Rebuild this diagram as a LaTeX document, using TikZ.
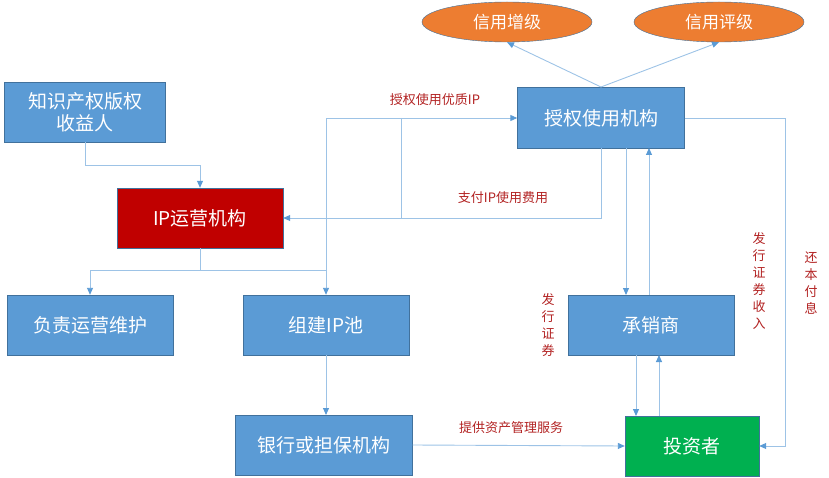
\documentclass[tikz,border=0pt]{standalone}
\usepackage{fontspec}
\setmainfont{Noto Sans CJK SC}
\usetikzlibrary{arrows.meta,shapes.geometric}
\definecolor{bx}{HTML}{5B9BD5}
\definecolor{bd}{HTML}{41719C}
\definecolor{ln}{HTML}{9DC3E6}
\definecolor{lb}{HTML}{B22222}
\definecolor{og}{HTML}{ED7D31}
\definecolor{rd}{HTML}{C00000}
\definecolor{gn}{HTML}{00B050}
\begin{document}
\begin{tikzpicture}[x=1pt,y=-1pt,
 box/.style={draw=bd,fill=bx,text=white,minimum width=166pt,minimum height=60pt,font=\fontsize{19}{22}\selectfont,inner sep=0pt,align=center},
 ell/.style={ellipse,draw=bd,fill=og,minimum width=170pt,minimum height=40pt,text=white,font=\fontsize{17}{20}\selectfont},
 con/.style={draw=ln,line width=0.9pt},
 arr/.style={con,-{Triangle[length=7pt,width=6pt,fill=bx,color=bx]}},
 lab/.style={text=lb,font=\fontsize{13}{15}\selectfont,inner sep=1pt},
 vlab/.style={lab,align=center,font=\fontsize{13}{17}\selectfont}]
\useasboundingbox (0,0) rectangle (829,478);
\node[ell] (e1) at (507,22) {信用增级};
\node[ell] (e2) at (719,22) {信用评级};
\node[box,minimum width=167pt,minimum height=61pt] (sq) at (601,118) {授权使用机构};
\node[box,minimum width=161pt] (zs) at (85,112) {知识产权版权\\收益人};
\node[box,fill=rd] (ip) at (200,218) {IP运营机构};
\node[box] (fz) at (90,325) {负责运营维护};
\node[box] (zj) at (326,325) {组建IP池};
\node[box] (cx) at (651,325) {承销商};
\node[box,minimum width=177pt] (yh) at (324,445) {银行或担保机构};
\node[box,fill=gn,minimum width=134pt] (tz) at (692,446) {投资者};
\coordinate (sqt) at (601,87);
\draw[arr] (sqt) -- (e1.south);
\draw[arr] (sqt) -- (e2.south);
\draw[arr] (zs.south) |- (200,165) -- (ip.north);
\draw[con] (ip.south) -- (200,270) -| (90,270);
\draw[arr] (90,270) -- (fz.north);
\draw[con] (200,270) -- (326,270);
\draw[arr] (326,270) -- (zj.north);
\draw[arr] (326,270) |- (sq.west);
\draw[con] (401,118) -- (401,218);
\draw[arr] (601,148) |- (ip.east);
\draw[arr] (626,148) -- (626,295);
\draw[arr] (649,295) -- (649,148);
\draw[arr] (636,355) -- (636,416);
\draw[arr] (659,416) -- (659,355);
\draw[arr] (sq.east) -| (785,446) -- (tz.east);
\draw[arr] (zj.south) -- (326,415);
\draw[arr] (yh.east) -- (tz.west);
\node[lab] (l1) at (435,100) {授权使用优质IP};
\node[lab] (l2) at (503,198) {支付IP使用费用};
\node[lab] (l3) at (511,428) {提供资产管理服务};
\node[vlab] (l4) at (548,325) {发\\行\\证\\券};
\node[vlab] (l5) at (759,281) {发\\行\\证\\券\\收\\入};
\node[vlab] (l6) at (811,283) {还\\本\\付\\息};
\end{tikzpicture}
\end{document}
